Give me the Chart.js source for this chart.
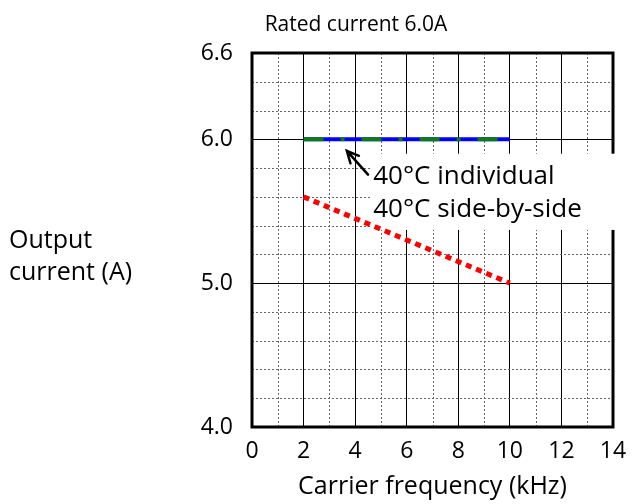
<!DOCTYPE html>
<html lang="en">
<head>
<meta charset="UTF-8">
<title>Rated current 6.0A</title>
<script src="https://cdn.jsdelivr.net/npm/chart.js"></script>
<style>
  body { margin: 0; background: #fff; }
  #wrap { width: 634px; height: 504px; }
</style>
</head>
<body>
<div id="wrap"><canvas id="deratingChart"></canvas></div>
<script>
// carrier frequency (kHz) vs output current (A)
const freqPoints = [2, 10];
const sideBySide40 = [6.0, 6.0];
const individual40 = [6.0, 6.0];
const deratedLine = [5.6, 5.0];

const xTicks = [0, 2, 4, 6, 8, 10, 12, 14];
const xMinor = [1, 3, 5, 7, 9, 11, 13];
const yTicks = [4.0, 5.0, 6.0, 6.6];
const yMajor = [5.0, 6.0];
const yMinor = [4.2, 4.4, 4.6, 4.8, 5.2, 5.4, 5.6, 5.8, 6.2, 6.4];

const chartTitle = 'Rated current 6.0A';
const yTitle = ['Output', 'current (A)'];
const xTitle = 'Carrier frequency (kHz)';
const noteLines = ['40°C individual', '40°C side-by-side'];

const FONT = '"Open Sans", "Noto Sans", sans-serif';

function pairs(xs, ys) {
    return xs.map((v, i) => ({ x: v, y: ys[i] }));
}

const frameAndNotes = {
    id: 'frameAndNotes',
    beforeDatasetsDraw(chart) {
        const { ctx, chartArea: a, scales: { x, y } } = chart;
        ctx.save();
        // dotted minor grid
        ctx.strokeStyle = '#666';
        ctx.lineWidth = 1;
        ctx.setLineDash([2, 2]);
        ctx.beginPath();
        xMinor.forEach(v => {
            const px = Math.round(x.getPixelForValue(v)) + 0.5;
            ctx.moveTo(px, a.top);
            ctx.lineTo(px, a.bottom);
        });
        yMinor.forEach(v => {
            const py = Math.round(y.getPixelForValue(v)) + 0.5;
            ctx.moveTo(a.left, py);
            ctx.lineTo(a.right, py);
        });
        ctx.stroke();
        ctx.setLineDash([]);
        // heavy frame
        ctx.strokeStyle = '#000';
        ctx.lineWidth = 3;
        ctx.strokeRect(a.left, a.top, a.right - a.left, a.bottom - a.top);
        // white box behind the note text
        const bx = x.getPixelForValue(4.6), by = y.getPixelForValue(5.9);
        ctx.fillStyle = '#fff';
        ctx.fillRect(bx, by, x.getPixelForValue(14.3) - bx, y.getPixelForValue(5.37) - by);
        ctx.restore();
    },
    afterDatasetsDraw(chart) {
        const { ctx, scales: { x, y } } = chart;
        ctx.save();
        // arrow pointing at the 6.0 lines
        const tx = x.getPixelForValue(3.68), ty = y.getPixelForValue(5.92);
        const sx = x.getPixelForValue(4.5), sy = y.getPixelForValue(5.755);
        const ang = Math.atan2(ty - sy, tx - sx);
        ctx.strokeStyle = '#000';
        ctx.lineWidth = 2.5;
        ctx.lineCap = 'round';
        ctx.beginPath();
        ctx.moveTo(sx, sy);
        ctx.lineTo(tx, ty);
        ctx.moveTo(tx - 13 * Math.cos(ang - 0.45), ty - 13 * Math.sin(ang - 0.45));
        ctx.lineTo(tx, ty);
        ctx.lineTo(tx - 13 * Math.cos(ang + 0.45), ty - 13 * Math.sin(ang + 0.45));
        ctx.stroke();
        // note text
        ctx.fillStyle = '#000';
        ctx.font = '26px ' + FONT;
        ctx.textAlign = 'left';
        ctx.textBaseline = 'alphabetic';
        ctx.fillText(noteLines[0], x.getPixelForValue(4.7), y.getPixelForValue(5.686));
        ctx.fillText(noteLines[1], x.getPixelForValue(4.7), y.getPixelForValue(5.463));
        ctx.restore();
    },
    afterDraw(chart) {
        const { ctx } = chart;
        ctx.save();
        ctx.fillStyle = '#000';
        ctx.textBaseline = 'alphabetic';
        ctx.font = '21px ' + FONT;
        ctx.textAlign = 'center';
        ctx.fillText(chartTitle, 356, 31);
        ctx.font = '25px ' + FONT;
        ctx.textAlign = 'left';
        ctx.fillText(yTitle[0], 9, 248);
        ctx.fillText(yTitle[1], 9, 280);
        ctx.restore();
    }
};

const ctx = document.getElementById('deratingChart').getContext('2d');
const deratingChart = new Chart(ctx, {
    type: 'line',
    data: {
        datasets: [
            {
                label: '40°C side-by-side',
                data: pairs(freqPoints, sideBySide40),
                borderColor: '#0f7a16',
                borderWidth: 4,
                borderDash: [20, 17, 4, 17],
                borderCapStyle: 'butt',
                pointRadius: 0,
                fill: false
            },
            {
                label: '40°C individual',
                data: pairs(freqPoints, individual40),
                borderColor: '#0000ff',
                borderWidth: 4,
                pointRadius: 0,
                fill: false
            },
            {
                label: 'Derated',
                data: pairs(freqPoints, deratedLine),
                borderColor: '#ff0000',
                borderWidth: 5,
                borderDash: [6, 5],
                borderCapStyle: 'butt',
                pointRadius: 0,
                fill: false
            }
        ]
    },
    options: {
        responsive: true,
        maintainAspectRatio: false,
        animation: false,
        layout: { padding: { top: 53, right: 21, left: 0, bottom: 0 } },
        plugins: {
            legend: { display: false },
            title: { display: false },
            tooltip: { enabled: false }
        },
        scales: {
            x: {
                type: 'linear',
                min: 0,
                max: 14,
                afterBuildTicks: s => { s.ticks = xTicks.map(v => ({ value: v })); },
                afterFit: s => {
                    s.height = 77;
                    s.paddingLeft = 0;
                    s.paddingRight = 0;
                },
                border: { display: false },
                grid: {
                    drawTicks: false,
                    lineWidth: 1,
                    color: c => (c.tick && c.tick.value > 0 && c.tick.value < 14) ? '#000' : 'rgba(0,0,0,0)'
                },
                ticks: {
                    padding: 11,
                    color: '#000',
                    maxRotation: 0,
                    font: { family: FONT, size: 23 }
                },
                title: {
                    display: true,
                    text: xTitle,
                    color: '#000',
                    font: { family: FONT, size: 25 },
                    padding: { top: 0, bottom: 2 }
                }
            },
            y: {
                type: 'linear',
                min: 4.0,
                max: 6.6,
                afterBuildTicks: s => { s.ticks = yTicks.map(v => ({ value: v })); },
                afterFit: s => { s.width = 252; },
                border: { display: false },
                grid: {
                    drawTicks: false,
                    lineWidth: 1,
                    color: c => (c.tick && yMajor.some(v => Math.abs(v - c.tick.value) < 1e-6)) ? '#000' : 'rgba(0,0,0,0)'
                },
                ticks: {
                    padding: 19,
                    color: '#000',
                    font: { family: FONT, size: 23 },
                    callback: v => v.toFixed(1)
                }
            }
        }
    },
    plugins: [frameAndNotes]
});
</script>
</body>
</html>
